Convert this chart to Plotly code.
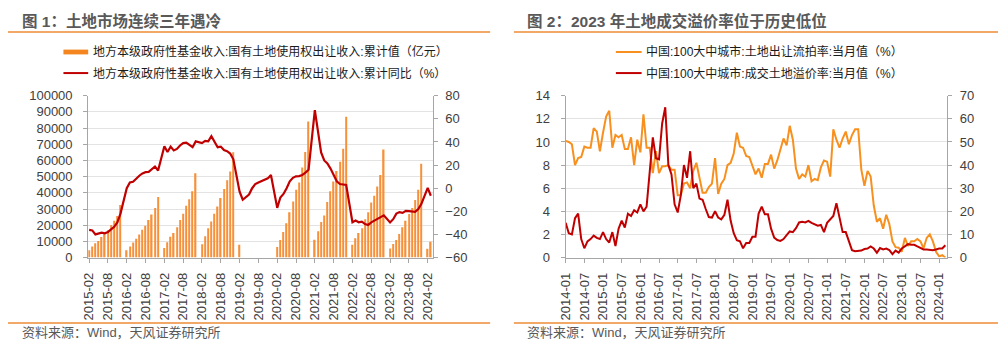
import plotly.graph_objects as go
import pandas as pd

W, H = 1001, 352

# ---------------- Chart 1 data ----------------
months1 = [d.strftime("%Y-%m") for d in pd.date_range("2015-02-01", "2024-03-01", freq="MS")]
ticks1 = ["2015-02", "2015-08", "2016-02", "2016-08", "2017-02", "2017-08", "2018-02", "2018-08",
          "2019-02", "2019-08", "2020-02", "2020-08", "2021-02", "2021-08", "2022-02", "2022-08",
          "2023-02", "2023-08", "2024-02"]

# 累计值（亿元）, None where no data (January / missing months)
land_income = [
    4540, 6800, 8800, 10300, 12700, 14800, 17100, 20100, 22700, 25650, 32550, None,   # 2015-02..2016-01
    4540, 6900, 9270, 11640, 14200, 17160, 19720, 23270, 26630, 30570, 37460, None,   # 2016
    5920, 9470, 12820, 15190, 18740, 23270, 27020, 31950, 36100, 41030, 52060, None,  # 2017
    8280, 13200, 18150, 22290, 27020, 31560, 36880, 42410, 47730, 53250, 65100, None, # 2018
    7900, None, None, None, None, None, None, None, None, None, None, None,          # 2019
    6520, 10870, 15800, 21140, 28060, 34580, 41890, 46440, 55720, 65210, 84140, None, # 2020
    11000, 16300, 22000, 26000, 34300, 41000, 47000, 53500, 59200, 67300, 87050, None, # 2021
    7900, 11860, 15200, 18180, 23710, 28060, 33990, 38140, 43870, 50980, 66850, None, # 2022
    5530, 8300, 10870, 14620, 18770, 22720, 26870, 30630, 35570, 41890, 58000, None,  # 2023
    5500, 9700,                                                                        # 2024
]
# 累计同比（%）
land_yoy = [
    -36, -36.5, -40, -39.5, -38.5, -39, -38, -35.7, -33.4, -29.6, -22, None,
    0, 5, 5.5, 8.5, 10.8, 12.8, 13.9, 14.1, 16.6, 18.8, 15.3, None,
    36.3, 31.3, 36, 32.7, 34, 37, 39, 39.5, 37.4, 35.5, 40.5, None,
    39, 41, 40.5, 45, 40, 35.5, 36, 33, 32, 30, 25, None,
    -3, -10, -7.5, -5.5, 0, 3.5, 5, 6, 7, 8.5, 11.4, None,
    -17, -8, -5, 0, 6, 9, 10.3, 10.5, 11.5, 13.5, 16, None,
    67.5, 47, 31, 24, 21.5, 17, 11, 6, 3.6, 3, 2.8, None,
    -29.5, -28, -29.5, -29, -31, -31.8, -29.5, -28, -26.3, -24.6, -23.5, None,
    -29.6, -26.8, -22, -20.7, -21.3, -19.6, -19.9, -19.9, -20.5, -18, -13.5, None,
    0.3, -6.5,
]

# ---------------- Chart 2 data ----------------
months2 = [d.strftime("%Y-%m") for d in pd.date_range("2014-01-01", "2024-03-01", freq="MS")]
ticks2 = ["2014-01", "2014-07", "2015-01", "2015-07", "2016-01", "2016-07", "2017-01", "2017-07",
          "2018-01", "2018-07", "2019-01", "2019-07", "2020-01", "2020-07", "2021-01", "2021-07",
          "2022-01", "2022-07", "2023-01", "2023-07", "2024-01"]

# 土地出让流拍率（%），left axis
unsold_rate = [
    10.1, 10.0, 9.8, 8.0, 8.6, 8.7, 9.6, 9.5, 9.5, 11.2, 10.9, 9.2,      # 2014
    10.8, 12.2, 12.7, 9.5, 10.6, 10.4, 10.6, 9.4, 9.4, 10.4, 8.0, 10.2,  # 2015
    9.1, 12.4, 9.5, 9.5, 7.3, 9.2, 7.3, 7.9, 7.9, 8.0, 7.6, 7.6,         # 2016
    5.4, 5.4, 6.4, 6.5, 6.0, 7.5, 8.2, 6.8, 5.6, 5.6, 6.1, 6.4,          # 2017
    8.6, 5.5, 6.4, 6.8, 8.0, 8.2, 9.0, 10.8, 9.6, 9.5, 8.8, 8.7,         # 2018
    8.0, 7.2, 7.7, 6.9, 8.1, 8.1, 8.9, 7.7, 8.4, 9.3, 10.3, 9.7,         # 2019
    11.4, 10.2, 7.7, 6.8, 7.2, 7.0, 8.0, 6.6, 6.8, 6.7, 7.8, 8.4,        # 2020
    8.3, 7.0, 11.1, 10.2, 9.5, 10.3, 10.9, 9.8, 10.6, 11.1, 11.1, 7.6,   # 2021
    6.2, 7.5, 7.0, 4.5, 3.1, 3.4, 2.5, 3.7, 2.9, 1.4, 0.9, 0.85,         # 2022
    0.5, 1.7, 1.0, 1.4, 1.4, 1.6, 1.4, 0.8, 1.7, 2.0, 1.4, 0.5,          # 2023
    0.1, 0.2, 0.0,                                                      # 2024
]
# 成交土地溢价率（%），right axis
premium_rate = [
    15, 10.5, 10, 17, 19, 8, 4, 7, 8, 9.5, 8.5, 8,
    11, 8, 6.5, 11, 5, 12.5, 16, 13, 19, 18, 20.5, 19.5,
    23, 20, 22, 38, 52, 43, 42.5, 58, 65, 40, 36, 23,
    19.5, 27, 40, 34.5, 46, 30, 32, 25.5, 25, 21, 17.5, 17.3,
    20, 17.3, 16.5, 18.5, 25, 16, 10.5, 7.5, 7, 4, 6.3, 6.3,
    9, 9, 19, 22, 18.7, 18.7, 12.5, 8.6, 7.6, 7.2, 8, 9.7,
    11.3, 11, 12.7, 15.2, 15.5, 15.2, 15.9, 15, 14.5, 13.8, 14.1, 11,
    15, 16.6, 18, 23.5, 17.3, 11, 11, 6.9, 3.2, 2.7, 2.7, 3.0,
    3.7, 3.9, 4.8, 3.9, 2.1, 4.1, 3.5, 3.9, 3.2, 1.5, 3.0, 2.1,
    3.9, 4.8, 5.8, 5.5, 5.5, 4.8, 4.2, 3.5, 3.5, 3.2, 3.2, 3.5,
    3.9, 3.9, 5.3,
]

titles = ["图 1：土地市场连续三年遇冷", "图 2：2023 年土地成交溢价率位于历史低位"]
names1 = ["地方本级政府性基金收入:国有土地使用权出让收入:累计值（亿元）",
          "地方本级政府性基金收入:国有土地使用权出让收入:累计同比（%）"]
names2 = ["中国:100大中城市:土地出让流拍率:当月值（%）",
          "中国:100大中城市:成交土地溢价率:当月值（%）"]
source = "资料来源：Wind，天风证券研究所"

# ---------------- styles ----------------
FONT = "Liberation Sans, Arial, Noto Sans CJK SC, sans-serif"
ORANGE_BAR = "#F6913A"
ORANGE_SWATCH = "#F5861F"
ORANGE_LINE = "#F7901E"
RED = "#C00000"
AXIS = "#A6A6A6"
GRID = "#E3E3E3"
TICKC = "#404040"
DIVIDER = "#EE8B35"


def px(x):
    return x / W


def py(y):
    return 1 - y / H


fig = go.Figure()
fig.add_trace(go.Bar(x=months1, y=land_income, name=names1[0], marker_color=ORANGE_BAR,
                     marker_line_width=0, width=0.42, xaxis="x", yaxis="y"))
fig.add_trace(go.Scatter(x=months1, y=land_yoy, name=names1[1], mode="lines", connectgaps=True,
                         line=dict(color=RED, width=2.2), xaxis="x", yaxis="y2"))
fig.add_trace(go.Scatter(x=months2, y=unsold_rate, name=names2[0], mode="lines",
                         line=dict(color=ORANGE_LINE, width=2), xaxis="x2", yaxis="y3"))
fig.add_trace(go.Scatter(x=months2, y=premium_rate, name=names2[1], mode="lines",
                         line=dict(color=RED, width=2), xaxis="x2", yaxis="y4"))

ydom = [py(261.7), py(92.7)]
tickfont = dict(family=FONT, size=13, color=TICKC)
common_x = dict(type="category", showgrid=False, showline=True, linecolor=AXIS, linewidth=1,
                ticks="outside", ticklen=4, tickcolor=AXIS, tickangle=-90, tickfont=tickfont,
                ticklabelstandoff=5, fixedrange=True)
common_y = dict(showline=True, linecolor=AXIS, linewidth=1, ticks="outside", ticklen=4,
                tickcolor=AXIS, tickfont=tickfont, zeroline=False, fixedrange=True)

fig.update_layout(
    width=W, height=H, margin=dict(l=0, r=0, t=0, b=0), autosize=False,
    paper_bgcolor="white", plot_bgcolor="white", showlegend=False,
    font=dict(family=FONT),
    xaxis=dict(common_x, domain=[px(81), px(429)], anchor="y", categoryorder="array",
               categoryarray=months1, range=[-0.3, 109.6], tickvals=ticks1, ticktext=ticks1),
    yaxis=dict(common_y, domain=ydom, anchor="x", range=[0, 100000], dtick=10000,
               tickformat="d", showgrid=True, gridcolor=GRID, ticklabelstandoff=8),
    yaxis2=dict(common_y, overlaying="y", side="right", anchor="x", range=[-60, 80], dtick=20,
                showgrid=False, ticklabelstandoff=5),
    xaxis2=dict(common_x, domain=[px(563.3), px(948.7)], anchor="y3", categoryorder="array",
                categoryarray=months2, range=[0, 122.6], tickvals=ticks2, ticktext=ticks2),
    yaxis3=dict(common_y, domain=ydom, anchor="x2", range=[0, 14], dtick=2,
                showgrid=True, gridcolor=GRID, ticklabelstandoff=8),
    yaxis4=dict(common_y, overlaying="y3", side="right", anchor="x2", range=[0, 70], dtick=10,
                showgrid=False, ticklabelstandoff=5),
)

shapes = []
annotations = []
# dividers
for x0, x1 in [(0, 487), (511, 1000)]:
    for yy in (26, 330):
        shapes.append(dict(type="line", xref="paper", yref="paper", x0=px(x0), x1=px(x1),
                           y0=py(yy), y1=py(yy), line=dict(color=DIVIDER, width=1.5)))
# titles
for xt, t in zip([12, 522.5], titles):
    annotations.append(dict(text="<b>" + t + "</b>", x=px(xt), y=py(15), xref="paper", yref="paper",
                            xanchor="left", yanchor="middle", showarrow=False,
                            font=dict(family=FONT, size=15.5, color="#595959")))

# sources
for xs in [12, 522.5]:
    annotations.append(dict(text=source, x=px(xs), y=py(340.5), xref="paper", yref="paper",
                            xanchor="left", yanchor="middle", showarrow=False,
                            font=dict(family=FONT, size=13, color="#595959")))

# legend chart 1
shapes.append(dict(type="rect", xref="paper", yref="paper", x0=px(56), x1=px(81),
                   y0=py(49.5), y1=py(44.5), fillcolor=ORANGE_SWATCH, line=dict(width=0)))
shapes.append(dict(type="line", xref="paper", yref="paper", x0=px(56), x1=px(81),
                   y0=py(69), y1=py(69), line=dict(color=RED, width=2)))
for yy, t in zip([47, 69], names1):
    annotations.append(dict(text=t, x=px(83.5), y=py(yy), xref="paper", yref="paper",
                            xanchor="left", yanchor="middle", showarrow=False,
                            font=dict(family=FONT, size=12, color="#1a1a1a")))
# legend chart 2
for yy, c, t in zip([47, 69], [ORANGE_LINE, RED], names2):
    shapes.append(dict(type="line", xref="paper", yref="paper", x0=px(614), x1=px(640),
                       y0=py(yy), y1=py(yy), line=dict(color=c, width=2)))
    annotations.append(dict(text=t, x=px(642.5), y=py(yy), xref="paper", yref="paper",
                            xanchor="left", yanchor="middle", showarrow=False,
                            font=dict(family=FONT, size=12, color="#1a1a1a")))

fig.update_layout(shapes=shapes, annotations=annotations)
fig.write_html("out.html")
